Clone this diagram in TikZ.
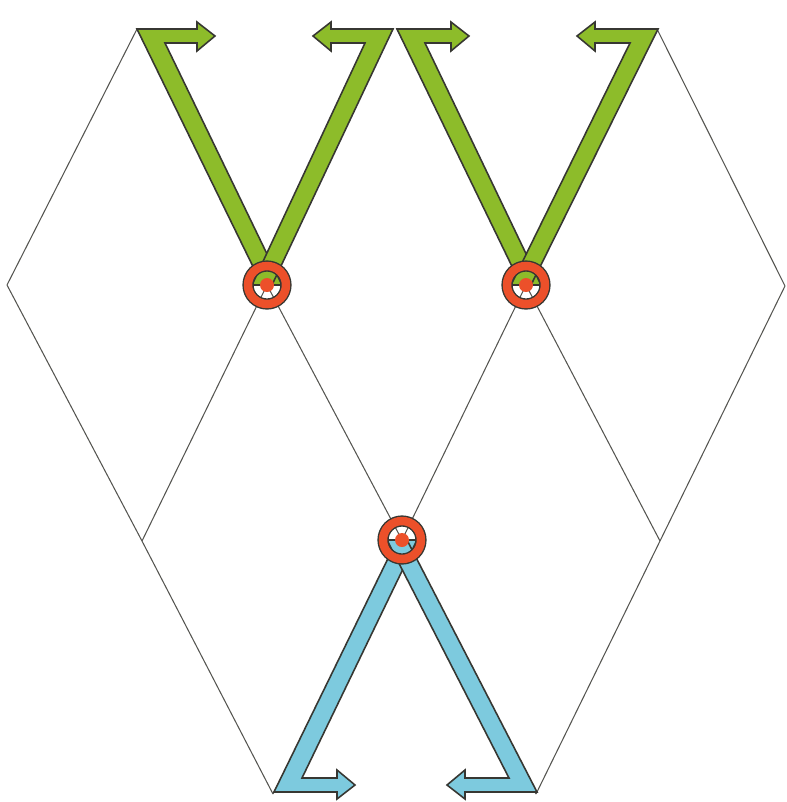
\documentclass[tikz,border=0pt]{standalone}
\usepackage{tikz}

\definecolor{leafgreen}{RGB}{141,188,42}
\definecolor{skyblue}{RGB}{125,202,222}
\definecolor{ringred}{RGB}{236,80,42}
\definecolor{ink}{RGB}{55,55,50}

\tikzset{
  lattice/.style={color=ink!85, line width=0.6pt},
  band/.style={draw=ink, line width=0.9pt, line join=miter},
  ring/.style={circle, inner sep=0pt, minimum size=0.76cm, draw=ink, line width=0.8pt,
    double=ringred, double distance=4.8pt},
  hub/.style={circle, inner sep=0pt, minimum size=0.28cm, fill=ringred}
}

% band: corner x, corner y, hub x, hub y, dir x, dir y, length, colour
\newcommand{\armband}[8]{%
  \draw[band, fill=#8] (#1,#2) -- ({#1+(#5)*(#7-18)},#2)
    -- ({#1+(#5)*(#7-18)},{#2-(#6)*7}) -- ({#1+(#5)*(#7)},{#2+(#6)*7})
    -- ({#1+(#5)*(#7-18)},{#2+(#6)*22}) -- ({#1+(#5)*(#7-18)},{#2+(#6)*14})
    -- ({#1+(#5)*28},{#2+(#6)*14}) -- ({#3+(#5)*15},#4) -- ({#3-(#5)*5},#4) -- cycle;}

\begin{document}
\begin{tikzpicture}[x=0.02cm, y=-0.02cm]
    \useasboundingbox (0,0) rectangle (787,802);

    % 1. Lattice points
    \coordinate (t1) at (137,29);
    \coordinate (t2a) at (393,29);
    \coordinate (t2b) at (397,29);
    \coordinate (t3) at (657,29);
    \coordinate (m0) at (7,285);
    \coordinate (c1) at (267,285);
    \coordinate (c2) at (526,285);
    \coordinate (m3) at (785,286);
    \coordinate (b1) at (142,541);
    \coordinate (c3) at (402,540);
    \coordinate (b3) at (660,541);
    \coordinate (e1) at (273,794);
    \coordinate (e2) at (536,794);

    % 2. Lattice lines
    \foreach \a/\b in {t1/m0, t1/c1, t2a/c1, t2b/c2, t3/c2, t3/m3,
                       m0/b1, c1/b1, c1/c3, c2/c3, c2/b3, m3/b3,
                       b1/e1, c3/e1, c3/e2, b3/e2} {
        \draw[lattice] (\a) -- (\b);
    }

    % 3. Green bands (top)
    \armband{137}{29}{267}{285}{1}{1}{78}{leafgreen}
    \armband{393}{29}{267}{285}{-1}{1}{80}{leafgreen}
    \armband{397}{29}{526}{285}{1}{1}{72}{leafgreen}
    \armband{658}{29}{526}{285}{-1}{1}{81}{leafgreen}

    % 4. Blue bands (bottom)
    \armband{274}{792}{402}{540}{1}{-1}{81}{skyblue}
    \armband{537}{792}{402}{540}{-1}{-1}{90}{skyblue}

    % 5. Rings
    \foreach \c/\n in {c1/1, c2/2, c3/3} {
        \node[ring] (ring\n) at (\c) {};
        \node[hub] (hub\n) at (\c) {};
    }
\end{tikzpicture}
\end{document}
